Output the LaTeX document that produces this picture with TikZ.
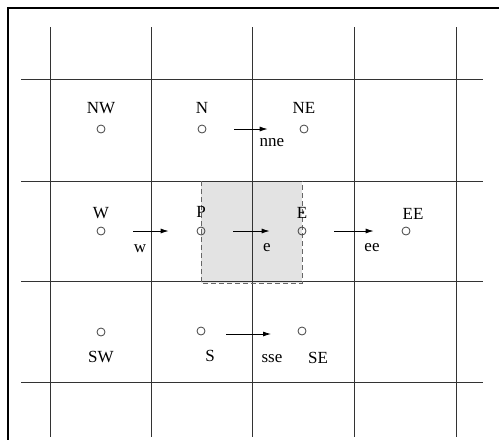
\documentclass[tikz,border=0pt]{standalone}
\usepackage{fontspec}
\setmainfont{Liberation Serif}
\usepackage{tikz}
\usetikzlibrary{arrows.meta}

\tikzset{
	gridline/.style={draw=black!80, line width=0.9pt},
	cv/.style={circle, draw=black!75, line width=0.8pt, minimum size=8pt, inner sep=0pt},
	flux/.style={-{Latex[length=8pt, width=5pt]}, line width=0.8pt, shorten <=28pt, shorten >=28pt},
	lbl/.style={font=\fontsize{17}{19}\selectfont, inner sep=1pt}
}

\begin{document}
\begin{tikzpicture}[x=1pt, y=-1pt, every node/.style={font=\fontsize{17}{19}\selectfont}, every label/.style={lbl}]
	\useasboundingbox (0,0) rectangle (499,440);
	% shaded control volume around P
	\fill[gray!22] (201,181) rectangle (302,283);
	% mesh lines
	\foreach \gx in {50,151,252,354,456} \draw[gridline] (\gx,27) -- (\gx,437);
	\foreach \gy in {79,181,281,382} \draw[gridline] (21,\gy) -- (483,\gy);
	\draw[black!60, dash pattern=on 5pt off 3pt, line width=0.9pt] (201,181) -- (201,283) -- (302,283) -- (302,181);
	\draw[line width=2pt] (499,8) -- (8,8) -- (8,440);
	% grid points
	\node[cv, label={[label distance=10pt]above:NW}] (NW) at (101,129) {};
	\node[cv, label={[label distance=10pt]above:N}] (N) at (202,129) {};
	\node[cv, label={[label distance=10pt]above:NE}] (NE) at (304,129) {};
	\node[cv, label={[label distance=7pt]above:W}] (W) at (101,231) {};
	\node[cv, label={[label distance=8pt]above:P}] (P) at (201,231) {};
	\node[cv, label={[label distance=7pt]above:E}] (E) at (302,231) {};
	\node[cv, label={[label distance=6pt, xshift=7pt]above:EE}] (EE) at (406,231) {};
	\node[cv, label={[label distance=14pt]below:SW}] (SW) at (101,332) {};
	\node[cv, label={[label distance=14pt, xshift=9pt]below:S}] (S) at (201,331) {};
	\node[cv, label={[label distance=16pt, xshift=16pt]below:SE}] (SE) at (302,331) {};
	% face fluxes
	\draw[flux] (W) -- (P);
	\draw[flux] (P) -- (E);
	\draw[flux] (E) -- (EE);
	\draw[flux, shorten >=32pt] (N) -- (NE);
	\draw[flux, shorten <=25pt, shorten >=31pt] ([yshift=-3pt]S.center) -- ([yshift=-3pt]SE.center);
	\node (w) at (140,249) {w};
	\node (e) at (267,248) {e};
	\node (ee) at (372,248) {ee};
	\node (nne) at (272,143) {nne};
	\node (sse) at (272,359) {sse};
\end{tikzpicture}
\end{document}
